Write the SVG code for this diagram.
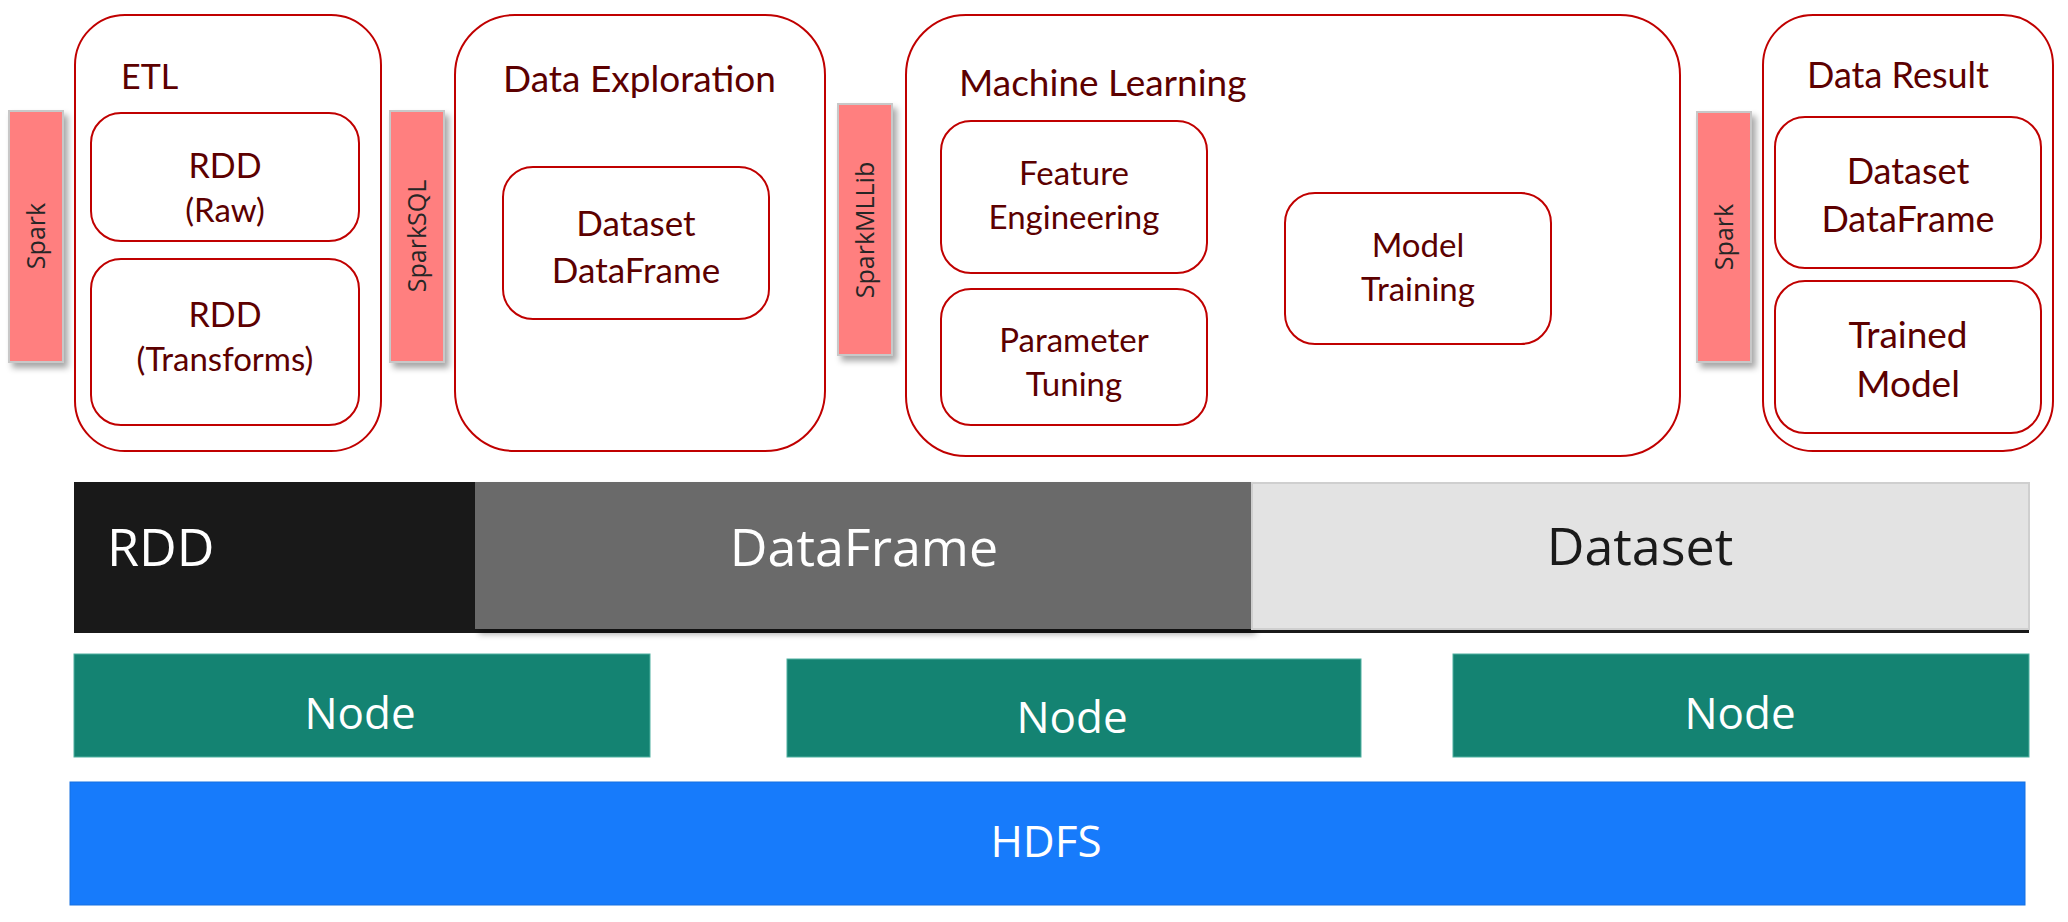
<svg xmlns="http://www.w3.org/2000/svg" width="2068" height="922" viewBox="0 0 2068 922">
<defs>
<filter id="sh" x="-30%" y="-10%" width="160%" height="130%">
<feDropShadow dx="4" dy="5" stdDeviation="3" flood-color="#000" flood-opacity="0.35"/>
</filter>
<style>
.box{fill:#fff;stroke:#c00000;stroke-width:2}
.t{font-family:Lato,"Open Sans",sans-serif;fill:#5c0000;text-anchor:middle}
.tl{font-family:Lato,"Open Sans",sans-serif;fill:#5c0000}
.bar{fill:#ff7f7f;stroke:#c8c8c8;stroke-width:2}
.bt{font-family:"Open Sans",Lato,sans-serif;font-size:25px;fill:#262626;text-anchor:middle}
.w{font-family:"Open Sans",Lato,sans-serif;fill:#fff;text-anchor:middle}
</style>
</defs>
<rect width="2068" height="922" fill="#fff"/>

<g id="etl">
<rect class="box" x="75" y="15" width="306" height="436" rx="50"/>
<text class="tl" x="121" y="89" font-size="34">ETL</text>
<rect class="box" x="91" y="113" width="268" height="128" rx="30"/>
<text class="t" x="225" y="178" font-size="34">RDD</text>
<text class="t" x="225" y="222" font-size="33">(Raw)</text>
<rect class="box" x="91" y="259" width="268" height="166" rx="30"/>
<text class="t" x="225" y="327" font-size="34">RDD</text>
<text class="t" x="225" y="371" font-size="33">(Transforms)</text>
</g>

<g id="data-exploration">
<rect class="box" x="455" y="15" width="370" height="436" rx="60"/>
<text class="tl" x="503" y="92" font-size="37">Data Exploration</text>
<rect class="box" x="503" y="167" width="266" height="152" rx="30"/>
<text class="t" x="636" y="236" font-size="35">Dataset</text>
<text class="t" x="636" y="283" font-size="35">DataFrame</text>
</g>

<g id="machine-learning">
<rect class="box" x="906" y="15" width="774" height="441" rx="60"/>
<text class="tl" x="959" y="96" font-size="37">Machine Learning</text>
<rect class="box" x="941" y="121" width="266" height="152" rx="30"/>
<text class="t" x="1074" y="185" font-size="33">Feature</text>
<text class="t" x="1074" y="229" font-size="33">Engineering</text>
<rect class="box" x="941" y="289" width="266" height="136" rx="30"/>
<text class="t" x="1074" y="352" font-size="33">Parameter</text>
<text class="t" x="1074" y="396" font-size="33">Tuning</text>
<rect class="box" x="1285" y="193" width="266" height="151" rx="30"/>
<text class="t" x="1418" y="257" font-size="33">Model</text>
<text class="t" x="1418" y="301" font-size="33">Training</text>
</g>

<g id="data-result">
<rect class="box" x="1763" y="15" width="290" height="436" rx="50"/>
<text class="t" x="1898" y="88" font-size="36">Data Result</text>
<rect class="box" x="1775" y="117" width="266" height="151" rx="30"/>
<text class="t" x="1908" y="184" font-size="36">Dataset</text>
<text class="t" x="1908" y="232" font-size="36">DataFrame</text>
<rect class="box" x="1775" y="281" width="266" height="152" rx="30"/>
<text class="t" x="1908" y="348" font-size="37">Trained</text>
<text class="t" x="1908" y="397" font-size="37">Model</text>
</g>

<g id="spark-left">
<rect class="bar" x="9" y="111" width="54" height="251" filter="url(#sh)"/>
<text class="bt" transform="translate(45,236) rotate(-90)">Spark</text>
</g>
<g id="sparksql">
<rect class="bar" x="390" y="111" width="54" height="251" filter="url(#sh)"/>
<text class="bt" transform="translate(426,236) rotate(-90)">SparkSQL</text>
</g>
<g id="sparkmllib">
<rect class="bar" x="838" y="104" width="54" height="251" filter="url(#sh)"/>
<text class="bt" transform="translate(874,230) rotate(-90)">SparkMLLib</text>
</g>
<g id="spark-right">
<rect class="bar" x="1697" y="112" width="54" height="250" filter="url(#sh)"/>
<text class="bt" transform="translate(1733,237) rotate(-90)">Spark</text>
</g>

<g id="rdd">
<rect x="74" y="482" width="1955" height="151" fill="#191919"/>
<text class="w" x="107" y="566" font-size="52" style="text-anchor:start">RDD</text>
</g>
<g id="dataframe">
<rect x="475" y="482" width="777" height="147" fill="#6a6a6a" filter="url(#sh)"/>
<text class="w" x="864" y="566" font-size="52">DataFrame</text>
</g>
<g id="dataset">
<rect x="1252" y="483" width="777" height="146" fill="#e3e3e3" stroke="#cfcfcf" stroke-width="2"/>
<text x="1640" y="565" font-size="52" font-family="'Open Sans',Lato,sans-serif" fill="#1a1a1a" text-anchor="middle">Dataset</text>
</g>

<g id="node1">
<rect x="74" y="654" width="576" height="103" fill="#148372" stroke="#4fb0a0" stroke-width="1"/>
<text class="w" x="360" y="729" font-size="44">Node</text>
</g>
<g id="node2">
<rect x="787" y="659" width="574" height="98" fill="#148372" stroke="#4fb0a0" stroke-width="1"/>
<text class="w" x="1072" y="733" font-size="44">Node</text>
</g>
<g id="node3">
<rect x="1453" y="654" width="576" height="103" fill="#148372" stroke="#4fb0a0" stroke-width="1"/>
<text class="w" x="1740" y="729" font-size="44">Node</text>
</g>

<g id="hdfs">
<rect x="70" y="782" width="1955" height="123" fill="#177bfb" stroke="#1670e0" stroke-width="1"/>
<text class="w" x="1046" y="857" font-size="44">HDFS</text>
</g>

<g id="connectors"></g>
</svg>
